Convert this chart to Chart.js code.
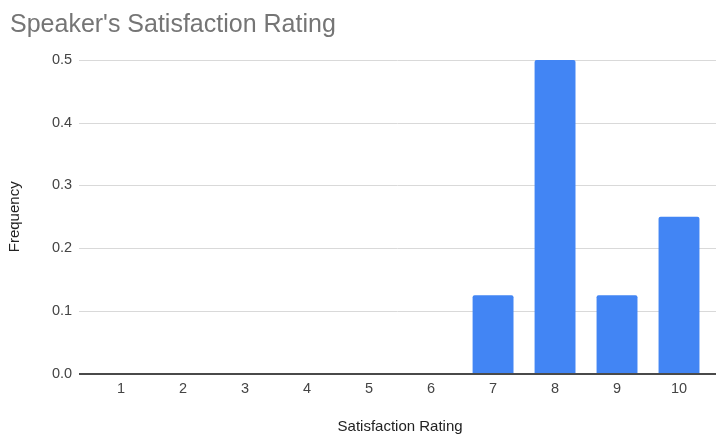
<!DOCTYPE html>
<html>
<head>
<meta charset="utf-8">
<script src="https://cdn.jsdelivr.net/npm/chart.js@4/dist/chart.umd.min.js"></script>
<style>
  html, body { margin: 0; padding: 0; background: #fff; }
  #wrap { width: 716px; height: 436px; position: relative; }
</style>
</head>
<body>
<div id="wrap"><canvas id="ratingChart" width="716" height="436"></canvas></div>
<script>
// rating categories and the share of answers for each
const ratings = ['1', '2', '3', '4', '5', '6', '7', '8', '9', '10'];
const frequency = [0, 0, 0, 0, 0, 0, 0.125, 0.5, 0.125, 0.25];
const yTicks = [0, 0.1, 0.2, 0.3, 0.4, 0.5];
const chartTitle = "Speaker's Satisfaction Rating";

const FONT = "'Liberation Sans', Arial, sans-serif";
const GRID_LEFT = 79;

// heading sits a little inside the left edge, so draw it ourselves
const headingPlugin = {
    id: 'heading',
    afterDraw(chart) {
        const ctx = chart.ctx;
        ctx.save();
        ctx.fillStyle = '#757575';
        ctx.font = '25px ' + FONT;
        ctx.textBaseline = 'alphabetic';
        ctx.textAlign = 'left';
        ctx.fillText(chartTitle, 10, 32);
        ctx.restore();
    }
};

// horizontal grid drawn wider than the category band, like Sheets does
const gridPlugin = {
    id: 'wideGrid',
    beforeDatasetsDraw(chart) {
        const ctx = chart.ctx;
        const y = chart.scales.y;
        ctx.save();
        yTicks.forEach(v => {
            if (v === 0) return;
            const py = Math.round(y.getPixelForValue(v)) + 0.5;
            ctx.beginPath();
            ctx.lineWidth = 1;
            ctx.strokeStyle = '#d9d9d9';
            ctx.moveTo(GRID_LEFT, py);
            ctx.lineTo(chart.width, py);
            ctx.stroke();
        });
        ctx.restore();
    },
    afterDatasetsDraw(chart) {
        const ctx = chart.ctx;
        const py = chart.scales.y.getPixelForValue(0);
        ctx.save();
        ctx.fillStyle = '#4a4a4a';
        ctx.fillRect(GRID_LEFT, Math.round(py) - 1, chart.width - GRID_LEFT, 2);
        ctx.restore();
    }
};

new Chart(document.getElementById('ratingChart'), {
    type: 'bar',
    data: {
        labels: ratings,
        datasets: [{
            label: 'Frequency',
            data: frequency,
            backgroundColor: '#4285f4',
            borderRadius: { topLeft: 2, topRight: 2 },
            borderSkipped: 'bottom',
            categoryPercentage: 1,
            barPercentage: 0.66
        }]
    },
    options: {
        responsive: false,
        animation: false,
        layout: { padding: { left: 6, right: 6, top: 60, bottom: 0 } },
        plugins: {
            legend: { display: false },
            tooltip: { enabled: false },
            title: { display: false }
        },
        scales: {
            x: {
                grid: { display: false, drawTicks: false },
                border: { display: false },
                ticks: { color: '#444444', font: { family: FONT, size: 14.5 }, padding: 7 },
                title: {
                    display: true,
                    text: 'Satisfaction Rating',
                    color: '#222222',
                    font: { family: FONT, size: 15 },
                    padding: { top: 13, bottom: 0 }
                }
            },
            y: {
                min: 0,
                max: 0.5,
                afterBuildTicks(scale) {
                    scale.ticks = yTicks.map(v => ({ value: v }));
                },
                grid: { display: false, drawTicks: false },
                border: { display: false },
                ticks: {
                    color: '#444444',
                    font: { family: FONT, size: 14.5 },
                    padding: 18,
                    callback: v => Number(v).toFixed(1)
                },
                title: {
                    display: true,
                    text: 'Frequency',
                    color: '#222222',
                    font: { family: FONT, size: 15 },
                    padding: { top: 0, bottom: 10 }
                }
            }
        }
    },
    plugins: [gridPlugin, headingPlugin]
});
</script>
</body>
</html>
